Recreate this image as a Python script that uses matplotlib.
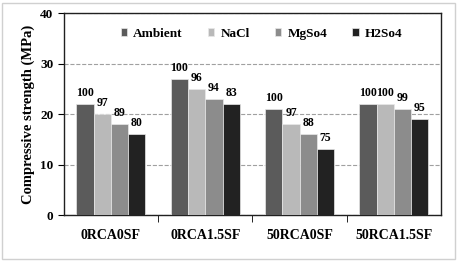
import numpy as np
import matplotlib
matplotlib.use('Agg')
import matplotlib.pyplot as plt
from matplotlib.patches import Rectangle

plt.rcParams['font.family'] = ['Liberation Serif', 'DejaVu Serif']
plt.rcParams['font.weight'] = 'bold'

# data
groups = ['0RCA0SF', '0RCA1.5SF', '50RCA0SF', '50RCA1.5SF']
series = ['Ambient', 'NaCl', 'MgSo4', 'H2So4']
ambient = [22, 27, 21, 22]
nacl = [20, 25, 18, 22]
mgso4 = [18, 23, 16, 21]
h2so4 = [16, 22, 13, 19]
pct_ambient = [100, 100, 100, 100]
pct_nacl = [97, 96, 97, 100]
pct_mgso4 = [89, 94, 88, 99]
pct_h2so4 = [80, 83, 75, 95]

values = [ambient, nacl, mgso4, h2so4]
pcts = [pct_ambient, pct_nacl, pct_mgso4, pct_h2so4]
colours = ['#5b5b5b', '#b9b9b9', '#8c8c8c', '#222222']

fig = plt.figure(figsize=(4.59, 2.63), dpi=100)
fig.patches.append(Rectangle((0.005, 0.015), 0.987, 0.975, transform=fig.transFigure,
                             fill=False, edgecolor='#d0d0d0', linewidth=1))
ax = fig.add_axes([0.139, 0.1825, 0.822, 0.768])

x = np.arange(len(groups))
w = 0.183
for i, (vals, pc, col) in enumerate(zip(values, pcts, colours)):
    xs = x + (i - 1.5) * w
    ax.bar(xs, vals, width=w, color=col, edgecolor='#e8e8e8', linewidth=0.5,
           label=series[i], zorder=3)
    for xx, v, p in zip(xs, vals, pc):
        ax.text(xx, v + 1.0, str(p), ha='center', va='bottom', fontsize=8.5,
                fontweight='bold')

ax.set_xlim(-0.5, 3.5)
ax.set_ylim(0, 40)
ax.set_yticks([0, 10, 20, 30, 40])
ax.yaxis.grid(True, linestyle='--', color='#a0a0a0', linewidth=0.8, zorder=0)
ax.set_xticks(x)
ax.set_xticklabels(groups, fontsize=10, fontweight='bold')
ax.tick_params(axis='x', length=0, pad=10)
ax.set_xticks([0.5, 1.5, 2.5], minor=True)
ax.tick_params(axis='x', which='minor', length=5, direction='out')
ax.tick_params(axis='y', labelsize=9.5, length=4, direction='out')
for lab in ax.get_yticklabels():
    lab.set_fontweight('bold')
ax.set_ylabel('Compressive strength (MPa)', fontsize=10.5, fontweight='bold')
for s in ax.spines.values():
    s.set_linewidth(1.0)
    s.set_color('#202020')

ax.legend(loc='upper center', bbox_to_anchor=(0.524, 0.985), ncol=4, frameon=False,
          handlelength=0.5, handleheight=0.5, handletextpad=0.45,
          columnspacing=1.9, prop={'weight': 'bold', 'size': 9.5})

fig.savefig('out.png', dpi=100)
